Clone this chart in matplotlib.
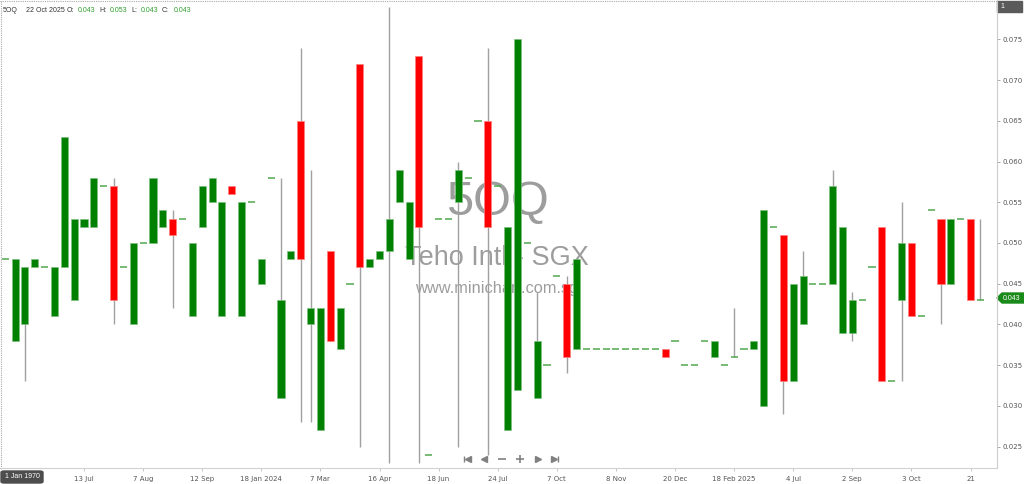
import matplotlib
matplotlib.use("Agg")
import matplotlib.pyplot as plt
from matplotlib.lines import Line2D
from matplotlib.patches import Polygon, FancyBboxPatch, Rectangle

# ---------------- data ----------------
opens = [0.048,0.038,0.040,0.047,0.047,0.041,0.047,0.043,0.052,0.052,
         0.057,0.057,0.047,0.040,0.050,0.050,0.052,0.053,0.053,0.041,
         0.052,0.055,0.041,0.057,0.041,0.055,0.045,0.058,0.031,0.048,
         0.065,0.040,0.027,0.049,0.037,0.045,0.072,0.047,0.048,0.049,
         0.055,0.048,0.073,0.024,0.053,0.053,0.055,0.058,0.065,0.065,
         0.057,0.027,0.032,0.050,0.031,0.035,0.046,0.045,0.037,0.037,
         0.037,0.037,0.037,0.037,0.037,0.037,0.037,0.037,0.038,0.035,
         0.035,0.038,0.036,0.035,0.036,0.037,0.037,0.030,0.052,0.051,
         0.033,0.040,0.045,0.045,0.045,0.039,0.039,0.043,0.047,0.052,
         0.033,0.043,0.050,0.041,0.054,0.053,0.045,0.053,0.053,0.043]
highs = [0.048,0.048,0.047,0.048,0.047,0.047,0.063,0.053,0.053,0.058,
         0.057,0.058,0.047,0.050,0.050,0.058,0.054,0.054,0.053,0.050,
         0.057,0.058,0.055,0.057,0.055,0.055,0.048,0.058,0.058,0.049,
         0.074,0.059,0.042,0.049,0.042,0.045,0.072,0.048,0.049,0.079,
         0.059,0.055,0.073,0.024,0.053,0.053,0.060,0.058,0.065,0.074,
         0.057,0.052,0.075,0.050,0.044,0.035,0.046,0.046,0.048,0.037,
         0.037,0.037,0.037,0.037,0.037,0.037,0.037,0.037,0.038,0.035,
         0.035,0.038,0.038,0.035,0.042,0.037,0.038,0.054,0.052,0.051,
         0.045,0.049,0.045,0.045,0.059,0.052,0.044,0.043,0.047,0.052,
         0.033,0.055,0.050,0.041,0.054,0.053,0.053,0.053,0.053,0.053]
lows =  [0.048,0.038,0.033,0.047,0.047,0.041,0.047,0.043,0.052,0.052,
         0.057,0.040,0.047,0.040,0.050,0.050,0.052,0.042,0.053,0.041,
         0.052,0.055,0.041,0.056,0.041,0.055,0.045,0.058,0.031,0.048,
         0.028,0.028,0.027,0.038,0.037,0.045,0.025,0.047,0.048,0.023,
         0.055,0.048,0.023,0.024,0.053,0.053,0.025,0.058,0.065,0.024,
         0.057,0.027,0.032,0.050,0.031,0.035,0.046,0.034,0.037,0.037,
         0.037,0.037,0.037,0.037,0.037,0.037,0.037,0.036,0.038,0.035,
         0.035,0.038,0.036,0.035,0.036,0.037,0.037,0.030,0.052,0.029,
         0.033,0.040,0.045,0.045,0.045,0.039,0.038,0.043,0.047,0.033,
         0.033,0.033,0.041,0.041,0.054,0.040,0.045,0.053,0.043,0.043]
closes = [0.048,0.048,0.047,0.048,0.047,0.047,0.063,0.053,0.053,0.058,
          0.057,0.043,0.047,0.050,0.050,0.058,0.054,0.051,0.053,0.050,
          0.057,0.058,0.055,0.056,0.055,0.055,0.048,0.058,0.043,0.049,
          0.048,0.042,0.042,0.038,0.042,0.045,0.047,0.048,0.049,0.053,
          0.059,0.055,0.052,0.024,0.053,0.053,0.059,0.058,0.065,0.052,
          0.057,0.052,0.075,0.050,0.038,0.035,0.046,0.036,0.048,0.037,
          0.037,0.037,0.037,0.037,0.037,0.037,0.037,0.036,0.038,0.035,
          0.035,0.038,0.038,0.035,0.036,0.037,0.038,0.054,0.052,0.033,
          0.045,0.046,0.045,0.045,0.057,0.052,0.043,0.043,0.047,0.033,
          0.033,0.050,0.041,0.041,0.054,0.045,0.053,0.053,0.043,0.043]

tick_idx = [8, 14, 20, 26, 32, 38, 44, 50, 56, 62, 68, 74, 80, 86, 92, 98]
tick_labels = ["13 Jul", "7 Aug", "12 Sep", "18 Jan 2024", "7 Mar", "16 Apr",
               "18 Jun", "24 Jul", "7 Oct", "8 Nov", "20 Dec", "18 Feb 2025",
               "4 Jul", "2 Sep", "3 Oct", "21"]
y_ticks = [0.025, 0.030, 0.035, 0.040, 0.045, 0.050, 0.055, 0.060, 0.065, 0.070, 0.075]

# ---------------- figure ----------------
W, H = 1024, 484
fig = plt.figure(figsize=(W / 100, H / 100), dpi=100)
fig.patch.set_facecolor("white")
ax = fig.add_axes([0, 16 / H, 997 / W, 468 / H])
ax.set_facecolor("white")

def fx(x):
    return x / W

def fy(y):
    return 1 - y / H

GREEN = "#008000"
RED = "#ff0000"
WICK = "#a0a0a0"
DOJI = "#4fa84f"

xs = list(range(len(opens)))
bw = 0.72
for i in xs:
    o, h, l, c = opens[i], highs[i], lows[i], closes[i]
    if h > l:
        ax.vlines(i, l, h, color=WICK, lw=1.0, zorder=2)
    if abs(c - o) < 1e-9:
        ax.hlines(o, i - bw / 2, i + bw / 2, color=DOJI, lw=1.1, zorder=3)
    else:
        col = GREEN if c > o else RED
        ec = "#7fbf7f" if c > o else "#ff8080"
        ax.bar(i, abs(c - o), bottom=min(o, c), width=bw, color=col,
               edgecolor=ec, linewidth=0.5, zorder=3)

ax.set_xlim(-0.53, 100.69)
ax.set_ylim(0.02236, 0.07985)

for s in ["top", "left"]:
    ax.spines[s].set_visible(False)
ax.spines["right"].set_color("#cccccc")
ax.spines["bottom"].set_color("#d0d0d0")
ax.spines["right"].set_linewidth(0.8)
ax.spines["bottom"].set_linewidth(0.8)

ax.yaxis.tick_right()
ax.set_yticks(y_ticks)
ax.set_yticklabels([f"{v:.3f}" for v in y_ticks])
ax.tick_params(axis="y", which="both", direction="out", length=2.2, width=0.6,
               colors="#999999", labelcolor="#555555", labelsize=5, pad=1.5)
ax.set_xticks(tick_idx)
ax.set_xticklabels(tick_labels)
ax.tick_params(axis="x", direction="out", length=2.5, width=0.6,
               colors="#bbbbbb", labelcolor="#555555", labelsize=5, pad=3)

# watermark
ax.text(0.5, 0, "", transform=ax.transAxes)
fig.text(fx(497), fy(203), "5OQ", family="Liberation Sans", fontsize=35,
         color="#8c8c8c", alpha=0.85, ha="center", va="center", zorder=1)
fig.text(fx(497), fy(258), "Teho Intl - SGX", family="Liberation Sans",
         fontsize=19.5, color="#8c8c8c", alpha=0.85, ha="center", va="center", zorder=1)
fig.text(fx(497), fy(289), "www.minichart.com.sg", family="Liberation Sans",
         fontsize=11.8, color="#8c8c8c", alpha=0.85, ha="center", va="center", zorder=1)
ax.set_zorder(2)
ax.patch.set_alpha(0)

# header
hdr_font = dict(fontsize=5, va="center", family="Liberation Sans")
fig.text(fx(3), fy(10), "5OQ", color="#333333", **hdr_font)
fig.text(fx(26), fy(10), "22 Oct 2025", color="#333333", **hdr_font)
parts = [("O:", 67, "0.043", 78), ("H:", 99, "0.053", 110),
         ("L:", 131, "0.043", 141), ("C:", 162, "0.043", 174)]
for lab, lx, val, vx in parts:
    fig.text(fx(lx), fy(10), lab, color="#333333", **hdr_font)
    fig.text(fx(vx), fy(10), val, color="#2e9e2e", **hdr_font)

# frame dotted lines
fig.add_artist(Line2D([0, fx(997)], [fy(1), fy(1)], color="#aaaaaa", lw=0.8,
                      linestyle=(0, (1, 1)), transform=fig.transFigure))
fig.add_artist(Line2D([fx(1), fx(1)], [fy(1), fy(470)], color="#aaaaaa", lw=0.8,
                      linestyle=(0, (1, 1)), transform=fig.transFigure))

# top-right box
fig.add_artist(Rectangle((fx(997), fy(12)), fx(25), 11 / H, color="#5a5a5a",
                         transform=fig.transFigure))
fig.text(fx(1000), fy(6.5), "1", color="white", fontsize=5, va="center",
         family="Liberation Sans")

# current price tag
py = 298
tag = Polygon([(fx(997), fy(py)), (fx(1002), fy(py - 5)), (fx(1024), fy(py - 5)),
               (fx(1024), fy(py + 5)), (fx(1002), fy(py + 5))], closed=True,
              color="#1a8a1a", transform=fig.transFigure)
fig.add_artist(tag)
fig.text(fx(1003), fy(py), "0.043", color="white", fontsize=5, va="center",
         family="Liberation Sans")

# "1 Jan 1970" box
box = FancyBboxPatch((fx(1), fy(483)), fx(42), 12 / H,
                     boxstyle="round,pad=0,rounding_size=0.003",
                     color="#4d4d4d", transform=fig.transFigure)
fig.add_artist(box)
fig.text(fx(22), fy(477), "1 Jan 1970", color="white", fontsize=5,
         ha="center", va="center", family="Liberation Sans")

# navigation buttons
nav_y = fy(459)
gray = "#808080"
def mk(x, m, s, lw=1.0):
    fig.add_artist(Line2D([fx(x)], [nav_y], marker=m, markersize=s, color=gray,
                          markeredgewidth=lw, transform=fig.transFigure))
mk(463.5, "|", 5, 1.0); mk(467.5, "<", 4)
mk(484, "<", 4)
mk(502, "_", 6, 1.2)
mk(520, "+", 6, 1.2)
mk(538, ">", 4)
mk(554, ">", 4); mk(558, "|", 5, 1.0)

fig.savefig("out.png", dpi=100)
